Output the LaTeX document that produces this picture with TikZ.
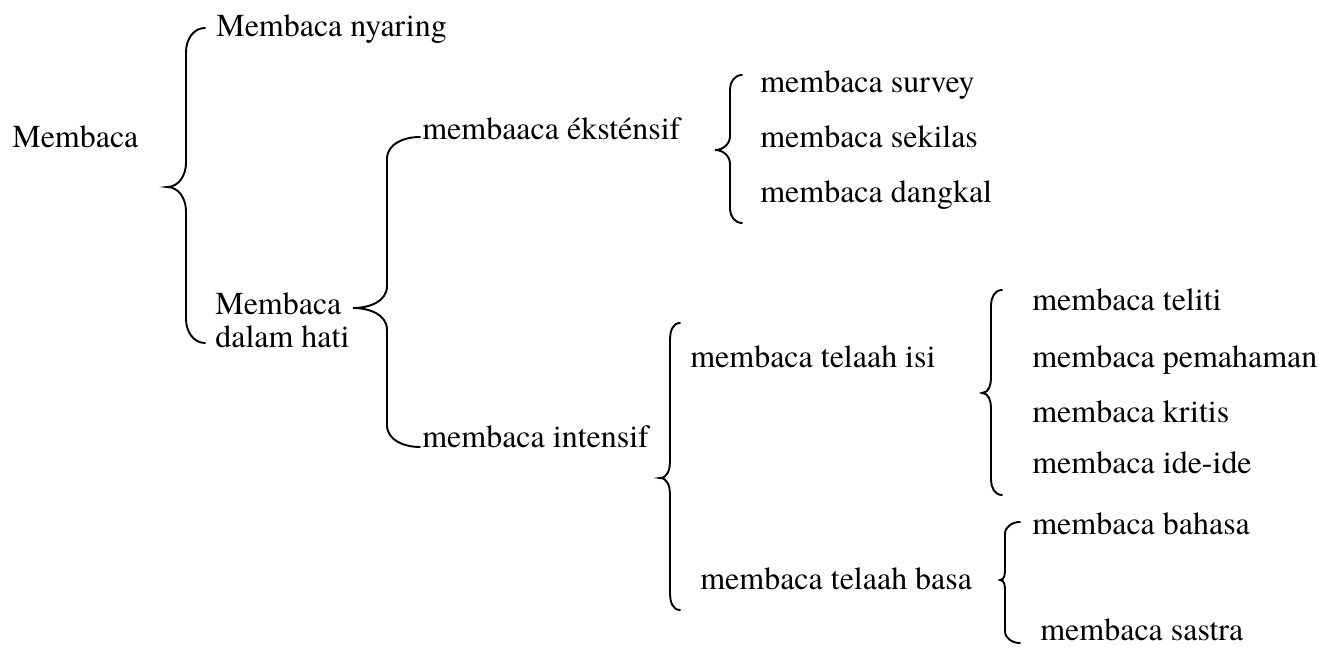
\documentclass[tikz,border=0pt]{standalone}
\usepackage{fontspec}
\setmainfont{texgyretermes-regular.otf}
\usepackage{tikz}

\newcommand{\kurawal}[7]{%
  \draw[garis] (#1,#4) to[out=180,in=90] (#2,{#4-#7}) -- (#2,{#5+#7})
    to[out=-90,in=0] (#3,#5) to[out=0,in=90] (#2,{#5-#7}) -- (#2,{#6+#7})
    to[out=-90,in=180] (#1,#6);}

\begin{document}
\begin{tikzpicture}[x=0.02cm,y=0.02cm,
        teks/.style={anchor=base west,inner sep=0pt,font=\fontsize{18.2}{21}\selectfont},
        garis/.style={line width=1.1pt,line cap=round}]
        \useasboundingbox (0,0) rectangle (1319,648);
        \node[teks] (baca) at (12,500) {Membaca};
        \node[teks] (nyaring) at (216,611) {Membaca nyaring};
        \node[teks] (hati1) at (215,333) {Membaca};
        \node[teks] (hati2) at (215,300) {dalam hati};
        \node[teks] (ekst) at (422,508) {membaaca éksténsif};
        \node[teks] (inten) at (422,200) {membaca intensif};
        \node[teks] (survey) at (760,555) {membaca survey};
        \node[teks] (sekilas) at (760,500) {membaca sekilas};
        \node[teks] (dangkal) at (760,445) {membaca dangkal};
        \node[teks] (isi) at (690,280) {membaca telaah isi};
        \node[teks] (basa) at (700,58) {membaca telaah basa};
        \node[teks] (teliti) at (1032,337) {membaca teliti};
        \node[teks] (paham) at (1032,280) {membaca pemahaman};
        \node[teks] (kritis) at (1032,225) {membaca kritis};
        \node[teks] (ide) at (1032,174) {membaca ide-ide};
        \node[teks] (bahasa) at (1032,113) {membaca bahasa};
        \node[teks] (sastra) at (1040,7) {membaca sastra};
        % kurung kurawal
        \kurawal{205}{186}{167}{620}{461}{305}{24}
        \kurawal{420}{387}{353}{511}{340}{201}{22}
        \kurawal{742}{730}{715}{573}{498}{425}{14}
        \kurawal{680}{670}{660}{325}{170}{38}{16}
        \kurawal{1002}{991}{982}{358}{255}{153}{15}
        \kurawal{1020}{1005}{1000}{126}{68}{5}{12}
    \end{tikzpicture}
\end{document}
